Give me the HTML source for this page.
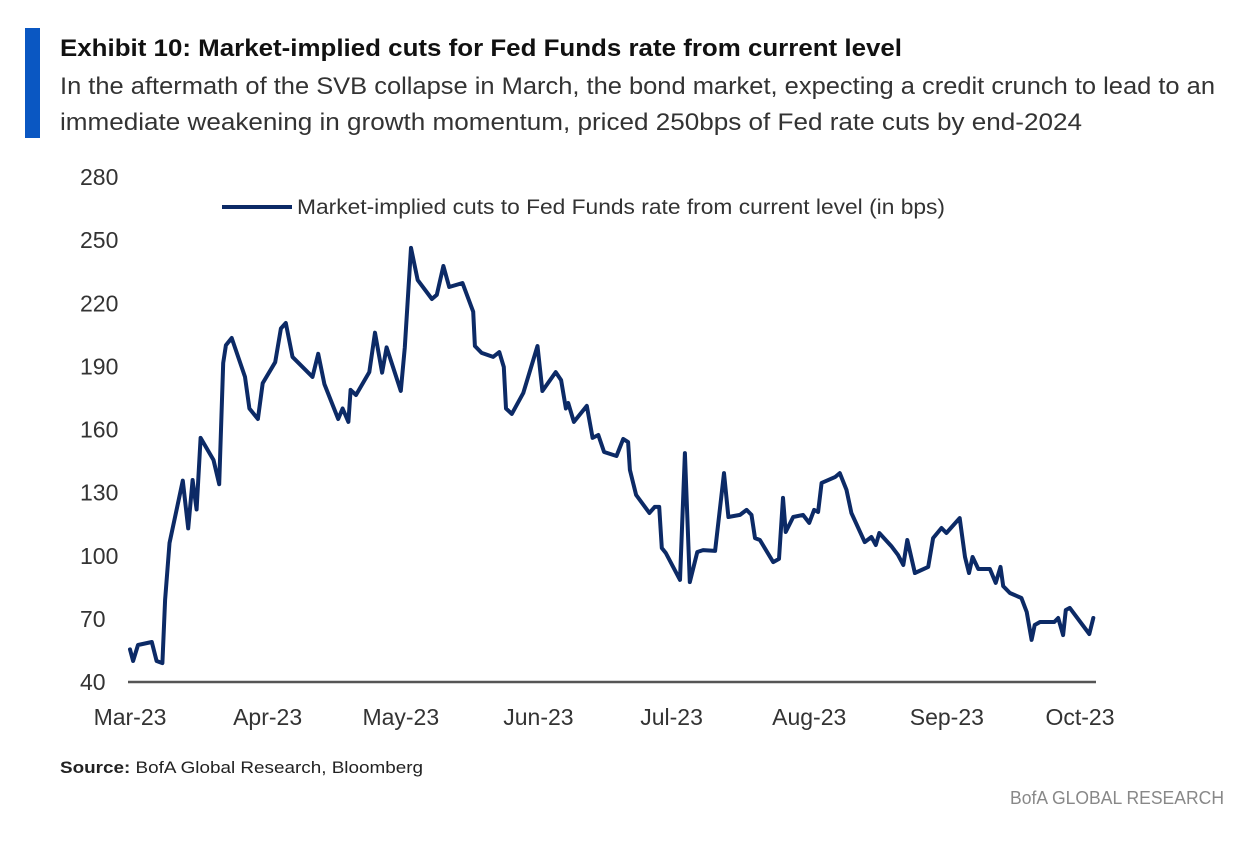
<!DOCTYPE html>
<html><head><meta charset="utf-8"><style>
html,body{margin:0;padding:0;background:#fff;}
svg{display:block;font-family:"Liberation Sans",Arial,sans-serif;}
</style></head><body>
<svg id="chart" width="1258" height="845" viewBox="0 0 1258 845">
<rect x="25" y="28" width="15" height="110" fill="#0a57c2"/>
<text x="60" y="56" font-size="24" font-weight="bold" fill="#111" textLength="842" lengthAdjust="spacingAndGlyphs">Exhibit 10: Market-implied cuts for Fed Funds rate from current level</text>
<text x="60" y="94" font-size="24" fill="#333" textLength="1155" lengthAdjust="spacingAndGlyphs">In the aftermath of the SVB collapse in March, the bond market, expecting a credit crunch to lead to an</text>
<text x="60" y="130" font-size="24" fill="#333" textLength="1022" lengthAdjust="spacingAndGlyphs">immediate weakening in growth momentum, priced 250bps of Fed rate cuts by end-2024</text>
<g id="yticks"></g>
<g id="xticks"></g>
<line x1="128" y1="682" x2="1096" y2="682" stroke="#555" stroke-width="2.5"/>
<g>
<line x1="222" y1="207" x2="292" y2="207" stroke="#0c2a66" stroke-width="4"/>
<text x="297" y="214" font-size="21" fill="#333" textLength="648" lengthAdjust="spacingAndGlyphs">Market-implied cuts to Fed Funds rate from current level (in bps)</text>
</g>
<path id="series" fill="none" stroke="#0c2a66" stroke-width="4" stroke-linejoin="round" stroke-linecap="round"/>
<text x="60" y="773" font-size="17" fill="#222" textLength="363" lengthAdjust="spacingAndGlyphs"><tspan font-weight="bold">Source:</tspan> BofA Global Research, Bloomberg</text>
<text x="1224" y="804" font-size="18" fill="#888" text-anchor="end" textLength="214" lengthAdjust="spacingAndGlyphs">BofA GLOBAL RESEARCH</text>
</svg>
<script>
const yTicks=[40,70,100,130,160,190,220,250,280];
const xTickLabels=["Mar-23","Apr-23","May-23","Jun-23","Jul-23","Aug-23","Sep-23","Oct-23"];
const xTickDays=[0,31,61,92,122,153,184,214];
const days=[0,0.7,1.8,4.9,6.0,7.3,7.9,8.9,11.9,13.1,14.1,15.0,15.9,18.8,20.1,21.0,21.6,22.9,25.9,26.9,28.8,29.9,32.7,34.0,35.1,36.6,41.1,42.4,43.8,46.9,47.9,49.2,49.7,50.9,53.9,55.2,56.8,57.8,61.0,61.9,63.3,64.8,68.0,69.1,70.6,71.9,74.9,77.3,77.7,79.2,81.8,83.2,84.2,84.7,86.0,88.6,91.8,92.9,95.9,97.1,98.2,98.7,100.0,102.9,104.2,105.5,106.8,109.6,111.1,112.2,112.6,114.0,117.0,118.2,119.2,119.8,120.7,123.9,125.0,126.1,127.8,129.1,131.8,133.8,134.8,137.4,138.9,140.0,140.8,141.9,144.9,146.2,147.1,147.7,149.4,151.6,153.0,154.1,155.0,155.8,158.8,159.9,161.4,162.5,165.5,167.0,168.0,168.8,171.5,173.0,174.2,175.1,176.8,179.8,180.9,182.8,183.9,186.9,188.1,189.0,189.8,191.1,193.7,195.0,196.1,196.7,198.2,200.8,202.0,203.1,203.8,205.0,208.2,209.1,210.2,210.8,211.7,216.1,217.0];
const values=[55.5,50,57.6,59,50,49,79,106,135.7,113,136,122,156,145.5,134,191.6,200,203.5,185,170,165,182,192,208,210.6,194.5,185,196,181.6,165,170,163.6,178.8,176.4,187.3,206,187,199,178.3,199,246.3,231,222,224,237.7,227.7,229.6,216,199.7,196.4,194.5,196.8,189.7,170,167.4,177.4,199.7,178.3,187.3,183.5,170,172.6,163.6,171.2,156,157.4,149.3,147.4,155.5,154,140.8,128.9,120.3,123.2,123.2,103.7,101.3,88.5,148.8,87.5,101.8,102.7,102.3,139.3,118.4,119.4,121.8,119.4,108.4,107.5,97,98.5,127.5,111.3,118.4,119.4,115.6,121.8,120.8,134.6,137.4,139.3,131.3,120.3,106.5,108.9,105.1,110.8,104.6,100.4,95.6,107.5,91.8,94.7,108.4,113.2,110.8,117.9,99.4,91.8,99.4,93.7,93.7,87.1,94.7,85.6,82.3,79.9,73.3,60,67.1,68.5,68.5,70.4,62.3,74.2,75.2,62.8,70.4];
const xs=d=>130+d*(950/214);
const ys=v=>682-(v-40)*(505/240);
const NS="http://www.w3.org/2000/svg";
const yg=document.getElementById('yticks');
yTicks.forEach(t=>{
  const el=document.createElementNS(NS,'text');
  el.setAttribute('x',80);el.setAttribute('y',ys(t)+8);
  el.setAttribute('font-size','23');el.setAttribute('fill','#333');
  el.textContent=t;
  
  
  yg.appendChild(el);
});
const xg=document.getElementById('xticks');
xTickLabels.forEach((l,i)=>{
  const el=document.createElementNS(NS,'text');
  el.setAttribute('x',xs(xTickDays[i]));el.setAttribute('y',725);
  el.setAttribute('font-size','23');el.setAttribute('fill','#333');
  el.setAttribute('text-anchor','middle');
  el.textContent=l;
  
  
  xg.appendChild(el);
});
document.getElementById('series').setAttribute('d',days.map((d,i)=>(i?'L':'M')+xs(d).toFixed(1)+' '+ys(values[i]).toFixed(1)).join(' '));
</script>
</body></html>
